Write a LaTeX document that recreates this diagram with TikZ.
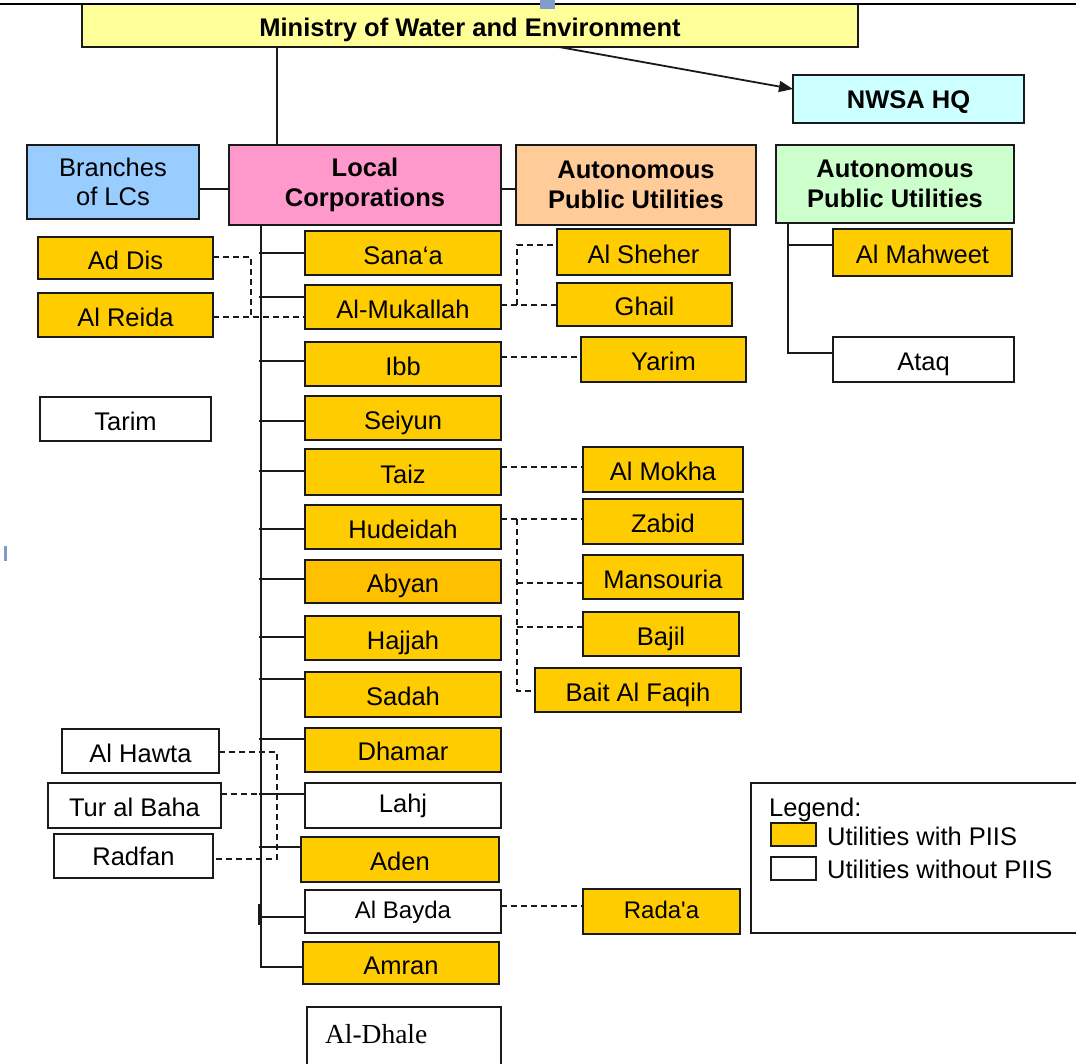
\documentclass[tikz,border=0pt]{standalone}
\usepackage{fontspec}
\setmainfont{Liberation Sans}
\newfontfamily\serifx{Liberation Serif}
\usetikzlibrary{arrows.meta}
\definecolor{gold}{HTML}{FFCC00}
\definecolor{goldd}{HTML}{FFC000}
\definecolor{minfill}{HTML}{FFFF99}
\definecolor{nwsafill}{HTML}{CCFFFF}
\definecolor{brfill}{HTML}{99CCFF}
\definecolor{lcfill}{HTML}{FF99CC}
\definecolor{apuo}{HTML}{FFCC99}
\definecolor{apug}{HTML}{CCFFCC}
\definecolor{ink}{HTML}{1A1A1A}
\definecolor{handle}{HTML}{7F9CCB}
\tikzset{
  base/.style={draw=ink, line width=1.8pt, inner sep=0pt, outer sep=0pt,
    font=\fontsize{25.5}{29}\selectfont, align=center, text=black},
  bbase/.style={base, font=\fontsize{25.5}{30}\selectfont\bfseries},
  low/.style={text height=22pt, text depth=0pt},
  mid/.style={text height=14pt, text depth=0pt},
  gbox/.style={base, low, fill=gold},
  wbox/.style={base, low, fill=white},
  conn/.style={line width=1.8pt, draw=ink},
  dconn/.style={line width=1.5pt, draw=ink, dash pattern=on 6pt off 4pt},
  legtext/.style={font=\fontsize{25.5}{29}\selectfont, anchor=west, inner sep=0pt, text=black},
}
\newcommand\bx[7]{\node[#6, minimum width={(#4-#2)*1pt}, minimum height={(#5-#3)*1pt}] (#1) at ({(#2+#4)/2},{(#3+#5)/2}) {#7};}
\begin{document}
\begin{tikzpicture}[x=1pt,y=-1pt]
\useasboundingbox (0,0) rectangle (1076,1063);
\clip (0,0) rectangle (1076,1063);

% top boxes
\bx{min}{82}{4}{858}{47}{bbase, low, fill=minfill}{Ministry of Water and Environment}
\bx{nwsa}{793}{75}{1024}{123}{bbase, text height=19pt, text depth=0pt, fill=nwsafill}{NWSA HQ}
\bx{branches}{27}{145}{199}{219}{base, fill=brfill}{Branches\\of LCs}
\bx{lc}{229}{145}{501}{225}{bbase, fill=lcfill}{Local\\Corporations}
\bx{apu1}{516}{145}{756}{225}{bbase, fill=apuo}{Autonomous\\Public Utilities}
\bx{apu2}{776}{145}{1014}{223}{bbase, fill=apug}{Autonomous\\Public Utilities}

% top edge line and handles
\draw[line width=2pt, draw=black] (0,4) -- (1076,4);
\fill[handle] (540,0) rectangle (555,9);
\fill[handle] (4,546) rectangle (6.5,561);

% branches of LCs
\bx{addis}{38}{237}{213}{279}{gbox}{Ad Dis}
\bx{alreida}{38}{293}{213}{337}{gbox}{Al Reida}
\bx{tarim}{40}{397}{211}{441}{wbox}{Tarim}
\bx{alhawta}{62}{729}{219}{773}{wbox}{Al Hawta}
\bx{turalbaha}{48}{783}{221}{828}{wbox}{Tur al Baha}
\bx{radfan}{54}{834}{213}{878}{wbox, text height=18pt}{Radfan}

% local corporations
\bx{sanaa}{305}{231}{501}{275}{gbox}{Sana`a}
\bx{mukallah}{305}{285}{501}{329}{gbox}{Al-Mukallah}
\bx{ibb}{305}{342}{501}{386}{gbox}{Ibb}
\bx{seiyun}{305}{396}{501}{440}{gbox}{Seiyun}
\bx{taiz}{305}{449}{501}{495}{gbox}{Taiz}
\bx{hudeidah}{305}{505}{501}{549}{gbox}{Hudeidah}
\bx{abyan}{305}{560}{501}{603}{base, low, fill=goldd}{Abyan}
\bx{hajjah}{305}{616}{501}{660}{gbox}{Hajjah}
\bx{sadah}{305}{672}{501}{717}{gbox}{Sadah}
\bx{dhamar}{305}{728}{501}{772}{gbox, text height=20pt}{Dhamar}
\bx{lahj}{305}{783}{501}{828}{wbox, mid}{Lahj}
\bx{aden}{301}{837}{499}{882}{gbox, text height=21pt}{Aden}
\bx{albayda}{305}{890}{501}{933}{wbox, mid, font=\fontsize{24}{28}\selectfont}{Al Bayda}
\bx{amran}{303}{942}{499}{984}{gbox}{Amran}
\bx{aldhale}{307}{1007}{501}{1070}{wbox, font=\fontsize{27.5}{30}\serifx, text width=194pt, align=left, text height=19pt, text depth=10pt}{\hspace*{18pt}Al-Dhale}

% autonomous utilities (orange)
\bx{alsheher}{557}{229}{730}{275}{gbox}{Al Sheher}
\bx{ghail}{557}{283}{732}{326}{gbox}{Ghail}
\bx{yarim}{581}{337}{746}{382}{gbox}{Yarim}
\bx{almokha}{583}{447}{743}{492}{gbox}{Al Mokha}
\bx{zabid}{583}{499}{743}{544}{gbox}{Zabid}
\bx{mansouria}{583}{555}{743}{599}{gbox}{Mansouria}
\bx{bajil}{583}{612}{739}{656}{gbox}{Bajil}
\bx{baitalfaqih}{535}{668}{741}{712}{gbox}{Bait Al Faqih}
\bx{radaa}{583}{889}{740}{934}{gbox, mid, font=\fontsize{24}{28}\selectfont}{Rada\textquotesingle a}

% autonomous utilities (green)
\bx{almahweet}{833}{229}{1012}{276}{gbox}{Al Mahweet}
\bx{ataq}{833}{337}{1014}{382}{wbox}{Ataq}

% legend
\bx{legend}{751}{783}{1090}{933}{wbox}{}
\node[legtext, anchor=base west] (legtitle) at (769,816) {Legend:};
\bx{swg}{771}{823}{816}{846}{gbox}{}
\bx{sww}{771}{857}{816}{880}{wbox}{}
\node[legtext] (legwith) at (827,836) {Utilities with PIIS};
\node[legtext] (legwithout) at (827,869) {Utilities without PIIS};

% helper coordinates
\coordinate (t1) at (277,0);
\coordinate (a1) at (559,47);
\coordinate (a2) at (793,89);
\coordinate (tr) at (261,0);
\coordinate (dl) at (251,0);
\coordinate (dh) at (277,0);
\coordinate (dr) at (517,0);
\coordinate (gr) at (788,0);

% solid connectors
\draw[conn] (min.south -| t1) -- (lc.north -| t1);
\draw[conn, -{Triangle[length=14pt,width=11pt]}] (min.south -| a1) -- (nwsa.west |- a2);
\draw[conn] (branches.east |- 0,189) -- (lc.west |- 0,189);
\draw[conn] (lc.east |- 0,189) -- (apu1.west |- 0,189);
\draw[conn] (lc.south -| tr) -- (tr |- 0,967) -- (amran.west |- 0,967);
\foreach \n/\yy in {sanaa/253, mukallah/297, ibb/361, seiyun/421, taiz/471,
  hudeidah/529, abyan/579, hajjah/637, sadah/679, dhamar/739, lahj/794,
  aden/847, albayda/917}
  \draw[conn] ([xshift=-2pt]tr |- 0,\yy) -- (\n.west |- 0,\yy);
\draw[line width=4pt, draw=ink] ([xshift=-1pt]tr |- 0,904) -- ([xshift=-1pt]tr |- 0,925);
\draw[conn] (apu2.south -| gr) -- (gr |- 0,353) -- (ataq.west |- 0,353);
\draw[conn] (gr |- 0,245) -- (almahweet.west |- 0,245);

% dashed connectors
\draw[dconn] (addis.east |- 0,257) -- (dl |- 0,257) -- (dl |- 0,317);
\draw[dconn] (alreida.east |- 0,317) -- (mukallah.west |- 0,317);
\draw[dconn] (alhawta.east |- 0,752) -- (dh |- 0,752) -- (dh |- 0,859) -- (radfan.east |- 0,859);
\draw[dconn] (turalbaha.east |- 0,794) -- (tr |- 0,794);
\draw[dconn] (mukallah.east |- 0,305) -- (ghail.west |- 0,305);
\draw[dconn] (dr |- 0,305) -- (dr |- 0,245) -- (alsheher.west |- 0,245);
\draw[dconn] (ibb.east |- 0,357) -- (yarim.west |- 0,357);
\draw[dconn] (taiz.east |- 0,467) -- (almokha.west |- 0,467);
\draw[dconn] (hudeidah.east |- 0,519) -- (zabid.west |- 0,519);
\draw[dconn] (dr |- 0,519) -- (dr |- 0,691) -- (baitalfaqih.west |- 0,691);
\draw[dconn] (dr |- 0,583) -- (mansouria.west |- 0,583);
\draw[dconn] (dr |- 0,627) -- (bajil.west |- 0,627);
\draw[dconn] (albayda.east |- 0,906) -- (radaa.west |- 0,906);
\end{tikzpicture}
\end{document}
